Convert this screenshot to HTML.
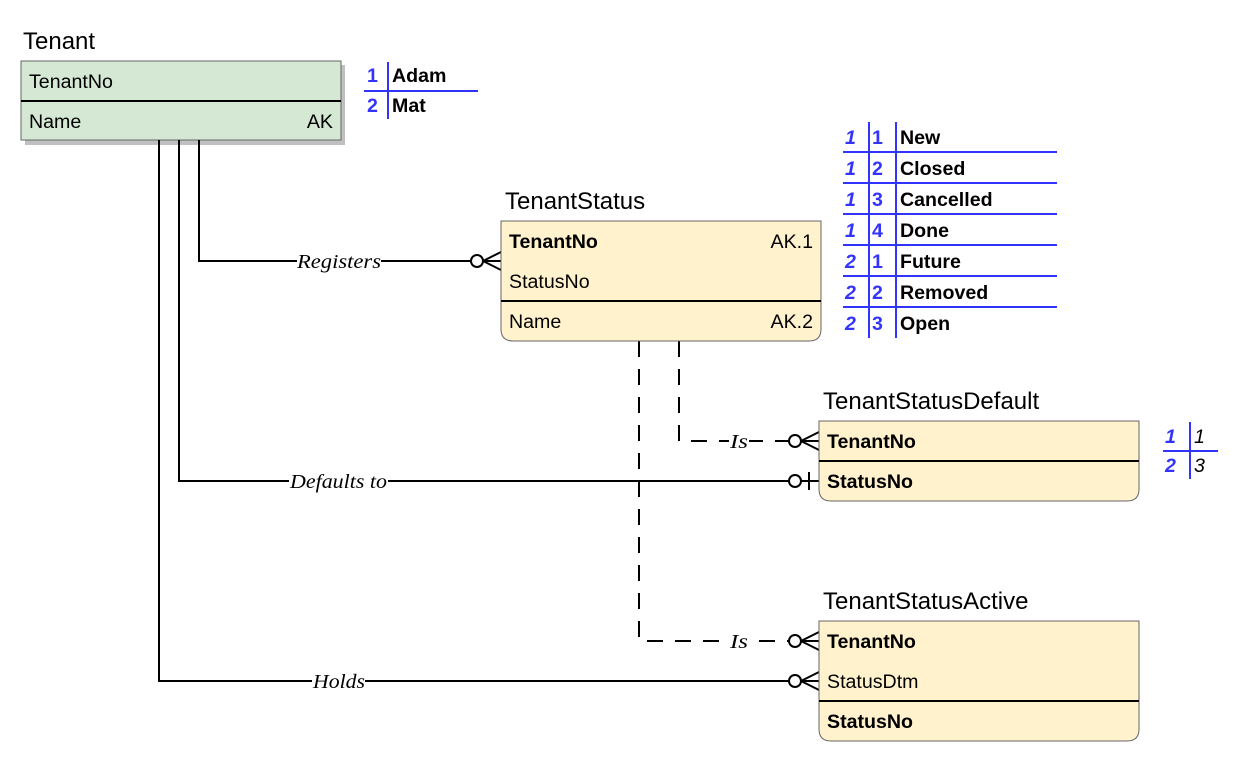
<!DOCTYPE html>
<html><head><meta charset="utf-8"><style>body{margin:0;background:#fff}svg{display:block}</style></head><body>
<svg width="1242" height="762" xmlns="http://www.w3.org/2000/svg" font-family="Liberation Sans, Arial, sans-serif">
<!-- Tenant -->
<text x="23" y="49" font-size="24">Tenant</text>
<rect x="25" y="65" width="320" height="80" fill="#c0c0c0"/>
<rect x="21" y="61" width="320" height="79" fill="#d5e8d4" stroke="#666" stroke-width="1"/>
<line x1="21" y1="101" x2="341" y2="101" stroke="#000" stroke-width="2"/>
<text x="29" y="88" font-size="19.6">TenantNo</text>
<text x="29" y="128" font-size="19.6">Name</text>
<text x="333" y="128" font-size="19.6" text-anchor="end">AK</text>

<!-- lookup 1 -->
<g stroke="#3333ff" stroke-width="2"><line x1="388" y1="62" x2="388" y2="119"/><line x1="364" y1="91" x2="478" y2="91"/></g>
<g font-size="19.6" font-weight="bold"><text x="367" y="82" fill="#3333ff">1</text><text x="392" y="82">Adam</text><text x="367" y="112" fill="#3333ff">2</text><text x="392" y="112">Mat</text></g>

<!-- lookup 2 -->
<g stroke="#3333ff" stroke-width="2"><line x1="869" y1="122" x2="869" y2="338"/><line x1="896" y1="122" x2="896" y2="338"/>
<line x1="843" y1="152" x2="1057" y2="152"/><line x1="843" y1="183" x2="1057" y2="183"/><line x1="843" y1="214" x2="1057" y2="214"/><line x1="843" y1="245" x2="1057" y2="245"/><line x1="843" y1="276" x2="1057" y2="276"/><line x1="843" y1="307" x2="1057" y2="307"/></g>
<g font-size="19.6" font-weight="bold">
<g fill="#3333ff" font-style="italic"><text x="845" y="144">1</text><text x="845" y="175">1</text><text x="845" y="206">1</text><text x="845" y="237">1</text><text x="845" y="268">2</text><text x="845" y="299">2</text><text x="845" y="330">2</text></g>
<g fill="#3333ff"><text x="872" y="144">1</text><text x="872" y="175">2</text><text x="872" y="206">3</text><text x="872" y="237">4</text><text x="872" y="268">1</text><text x="872" y="299">2</text><text x="872" y="330">3</text></g>
<text x="900" y="144">New</text><text x="900" y="175">Closed</text><text x="900" y="206">Cancelled</text><text x="900" y="237">Done</text><text x="900" y="268">Future</text><text x="900" y="299">Removed</text><text x="900" y="330">Open</text>
</g>

<!-- lookup 3 -->
<g stroke="#3333ff" stroke-width="2"><line x1="1190" y1="422" x2="1190" y2="479"/><line x1="1163" y1="451" x2="1218" y2="451"/></g>
<text x="1165" y="443" font-size="19.6" font-weight="bold" font-style="italic" fill="#3333ff">1</text>
<text x="1165" y="472" font-size="19.6" font-weight="bold" font-style="italic" fill="#3333ff">2</text>
<text x="1194" y="443" font-size="19.6" font-style="italic">1</text>
<text x="1194" y="472" font-size="19.6" font-style="italic">3</text>

<!-- connectors -->
<g stroke="#000" stroke-width="2" fill="none">
<polyline points="199,140 199,261 471,261"/>
<polyline points="179,140 179,481 789,481"/>
<polyline points="159,140 159,681 789,681"/>
<g stroke-dasharray="16,12"><polyline points="639,341 639,641 789,641"/><polyline points="679,341 679,441 789,441"/></g>
<circle cx="477" cy="261" r="6" fill="#fff"/><path d="M483,261 L501,252 M483,261 L501,270 M483,261 L501,261"/>
<circle cx="795" cy="441" r="6" fill="#fff"/><path d="M801,441 L819,432 M801,441 L819,450 M801,441 L819,441"/>
<circle cx="795" cy="641" r="6" fill="#fff"/><path d="M801,641 L819,632 M801,641 L819,650 M801,641 L819,641"/>
<circle cx="795" cy="681" r="6" fill="#fff"/><path d="M801,681 L819,672 M801,681 L819,690 M801,681 L819,681"/>
<circle cx="795" cy="481" r="6" fill="#fff"/><path d="M801,481 L819,481 M809,472 L809,490"/>
</g>
<g font-family="Liberation Serif, serif" font-style="italic" font-size="20">
<rect x="297" y="250" width="84" height="22" fill="#fff"/><text x="297" y="268" textLength="84" lengthAdjust="spacingAndGlyphs">Registers</text>
<rect x="289" y="470" width="99" height="22" fill="#fff"/><text x="290" y="488" textLength="97" lengthAdjust="spacingAndGlyphs">Defaults to</text>
<rect x="312" y="670" width="53" height="22" fill="#fff"/><text x="313" y="688" textLength="52" lengthAdjust="spacingAndGlyphs">Holds</text>
<rect x="729" y="430" width="20" height="22" fill="#fff"/><text x="730" y="448" textLength="18" lengthAdjust="spacingAndGlyphs">Is</text>
<rect x="729" y="630" width="20" height="22" fill="#fff"/><text x="730" y="648" textLength="18" lengthAdjust="spacingAndGlyphs">Is</text>
</g>

<!-- TenantStatus -->
<text x="505" y="209" font-size="24">TenantStatus</text>
<path d="M501,221 H821 V329 Q821,341 809,341 H513 Q501,341 501,329 Z" fill="#fff2cc" stroke="#666"/>
<line x1="501" y1="301" x2="821" y2="301" stroke="#000" stroke-width="2"/>
<text x="509" y="248" font-size="19.6" font-weight="bold">TenantNo</text>
<text x="813" y="248" font-size="19.6" text-anchor="end">AK.1</text>
<text x="509" y="288" font-size="19.6">StatusNo</text>
<text x="509" y="328" font-size="19.6">Name</text>
<text x="813" y="328" font-size="19.6" text-anchor="end">AK.2</text>

<!-- TenantStatusDefault -->
<text x="823" y="409" font-size="24">TenantStatusDefault</text>
<path d="M819,421 H1139 V489 Q1139,501 1127,501 H831 Q819,501 819,489 Z" fill="#fff2cc" stroke="#666"/>
<line x1="819" y1="461" x2="1139" y2="461" stroke="#000" stroke-width="2"/>
<text x="827" y="448" font-size="19.6" font-weight="bold">TenantNo</text>
<text x="827" y="488" font-size="19.6" font-weight="bold">StatusNo</text>

<!-- TenantStatusActive -->
<text x="823" y="609" font-size="24">TenantStatusActive</text>
<path d="M819,621 H1139 V729 Q1139,741 1127,741 H831 Q819,741 819,729 Z" fill="#fff2cc" stroke="#666"/>
<line x1="819" y1="701" x2="1139" y2="701" stroke="#000" stroke-width="2"/>
<text x="827" y="648" font-size="19.6" font-weight="bold">TenantNo</text>
<text x="827" y="688" font-size="19.6">StatusDtm</text>
<text x="827" y="728" font-size="19.6" font-weight="bold">StatusNo</text>
</svg>
</body></html>
